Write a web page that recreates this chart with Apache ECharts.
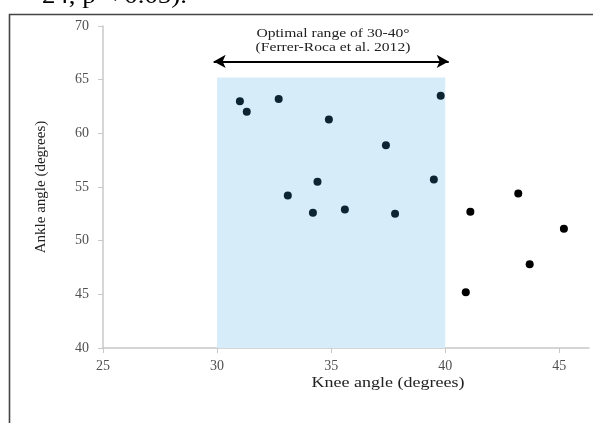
<!DOCTYPE html>
<html>
<head>
<meta charset="utf-8">
<script src="https://cdn.jsdelivr.net/npm/echarts@6/dist/echarts.min.js"></script>
<style>
  html, body { margin: 0; padding: 0; background: #fff; }
  #chart { width: 593px; height: 423px; }
</style>
</head>
<body>
<div id="chart"></div>
<script>
// knee / ankle angles (degrees)
var kneeAngle = [31.0, 31.3, 32.7, 33.1, 34.2, 34.4, 34.9, 35.6, 37.4, 37.8, 39.5, 39.8, 40.9, 41.1, 43.2, 43.7, 45.2]
var ankleAngle = [63.0, 62.0, 63.2, 54.2, 52.6, 55.5, 61.3, 52.9, 58.9, 52.5, 55.7, 63.5, 45.2, 52.7, 54.4, 47.8, 51.1]
var xTicks = [25, 30, 35, 40, 45]
var optimalRange = [30, 40]
var shadeTop = 65.2
var arrowY = 66.7

var points = kneeAngle.map(function (k, i) { return [k, ankleAngle[i]] })
var serif = '"Liberation Serif", "DejaVu Serif", serif'

var myChart = echarts.init(document.getElementById('chart'))
myChart.setOption({
  animation: false,
  grid: {
    left: 103,
    top: 26,
    right: 4,
    bottom: 75
  },
  xAxis: {
    type: 'value',
    min: 25,
    max: 46.3,
    interval: 5,
    splitLine: { show: false },
    axisLine: { onZero: false, lineStyle: { color: '#c8c8c8', width: 1.5 } },
    axisTick: { show: true, length: 5, customValues: xTicks, lineStyle: { color: '#c8c8c8' } },
    axisLabel: {
      customValues: xTicks,
      margin: 11,
      fontFamily: serif,
      fontSize: 14,
      color: '#505050'
    }
  },
  yAxis: {
    type: 'value',
    min: 40,
    max: 70,
    interval: 5,
    name: 'Ankle angle (degrees)',
    nameLocation: 'middle',
    nameGap: 54,
    nameTextStyle: { fontFamily: serif, fontSize: 15, color: '#222' },
    splitLine: { show: false },
    axisLine: { show: true, lineStyle: { color: '#c8c8c8', width: 1.5 } },
    axisTick: { show: true, length: 5, lineStyle: { color: '#c8c8c8' } },
    axisLabel: {
      margin: 14,
      fontFamily: serif,
      fontSize: 14,
      color: '#505050'
    }
  },
  graphic: [
    {
      type: 'text',
      x: 20,
      y: -15,
      scaleX: 1.12,
      style: { text: '= 24, p < 0.05).', font: '24px ' + serif, fill: '#000' }
    },
    {
      type: 'rect',
      shape: { x: 9.5, y: 14.5, width: 600, height: 420 },
      style: { fill: 'none', stroke: '#444', lineWidth: 1.6 }
    },
    {
      type: 'text',
      x: 388,
      y: 383,
      scaleX: 1.2,
      style: {
        text: 'Knee angle (degrees)',
        font: '15px ' + serif,
        fill: '#222',
        align: 'center',
        verticalAlign: 'middle'
      }
    },
    {
      type: 'text',
      x: 333,
      y: 41,
      scaleX: 1.2,
      style: {
        text: 'Optimal range of 30-40°\n(Ferrer-Roca et al. 2012)',
        font: '13px ' + serif,
        lineHeight: 14,
        fill: '#222',
        align: 'center',
        verticalAlign: 'middle'
      }
    }
  ],
  series: [{
    type: 'scatter',
    data: points,
    symbolSize: 8,
    itemStyle: {
      opacity: 1,
      color: function (p) {
        var x = p.value[0]
        var y = p.value[1]
        return (x >= optimalRange[0] && x <= optimalRange[1] && y <= shadeTop) ? '#0d2533' : '#000'
      }
    },
    markArea: {
      silent: true,
      itemStyle: { color: '#d6edf9' },
      data: [[{ coord: [optimalRange[0], 40] }, { coord: [optimalRange[1], shadeTop] }]]
    },
    markLine: {
      silent: true,
      symbol: ['arrow', 'arrow'],
      symbolSize: [10, 12],
      label: { show: false },
      lineStyle: { color: '#000', width: 2, type: 'solid' },
      data: [[{ coord: [optimalRange[0] - 0.15, arrowY] }, { coord: [optimalRange[1] + 0.15, arrowY] }]]
    }
  }]
}, true)
</script>
</body>
</html>
